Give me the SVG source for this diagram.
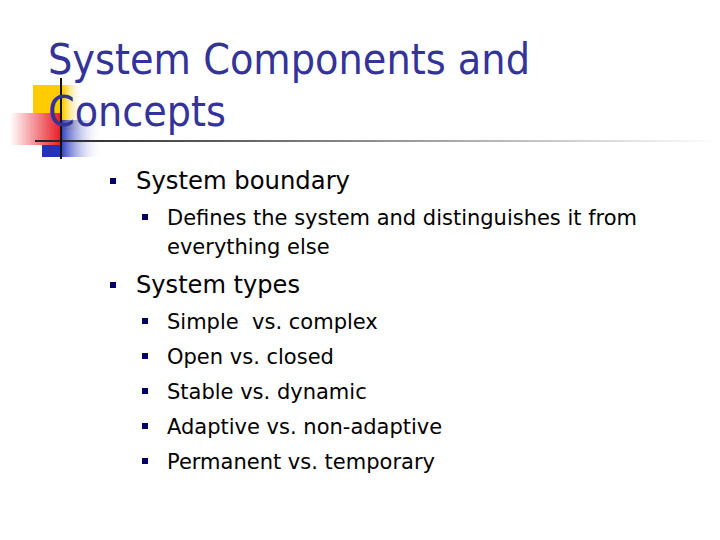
<svg xmlns="http://www.w3.org/2000/svg" width="720" height="540" viewBox="0 0 720 540">
<defs>
<linearGradient id="red" x1="0" x2="1"><stop offset="0" stop-color="#fff"/><stop offset="1" stop-color="#e8202a"/></linearGradient>
<linearGradient id="blue" x1="0" x2="1"><stop offset="0.3" stop-color="#2233bb"/><stop offset="1" stop-color="#fff" stop-opacity="0"/></linearGradient>
<linearGradient id="yel" x1="0" x2="1"><stop offset="0.6" stop-color="#ffcc00"/><stop offset="1" stop-color="#fff" stop-opacity="0"/></linearGradient>
<linearGradient id="line" x1="0" x2="1"><stop offset="0" stop-color="#222"/><stop offset="1" stop-color="#fff"/></linearGradient>
</defs>
<style>
.t{font-family:"DejaVu Sans","Liberation Sans",sans-serif;fill:#333399;font-size:42px}
.l1{font-family:"DejaVu Sans","Liberation Sans",sans-serif;fill:#000;font-size:25px}
.l2{font-family:"DejaVu Sans","Liberation Sans",sans-serif;fill:#000;font-size:21px}
.b{fill:#000066}
</style>
<rect width="720" height="540" fill="#fff"/>
<rect x="33" y="85" width="50" height="45" fill="url(#yel)"/>
<rect x="42" y="120" width="60" height="37" fill="url(#blue)"/>
<rect x="10" y="113" width="50" height="32" fill="url(#red)"/>
<rect x="35" y="140" width="685" height="2" fill="url(#line)"/>
<rect x="60" y="78" width="2" height="81" fill="#111"/>
<text class="t" x="48" y="74" textLength="482" lengthAdjust="spacingAndGlyphs">System Components and</text>
<text class="t" x="48" y="126" textLength="178" lengthAdjust="spacingAndGlyphs">Concepts</text>
<rect class="b" x="110" y="178" width="6" height="6"/>
<text class="l1" x="136" y="189" textLength="214" lengthAdjust="spacingAndGlyphs">System boundary</text>
<rect class="b" x="142" y="214" width="6" height="6"/>
<text class="l2" x="167" y="225" textLength="470" lengthAdjust="spacingAndGlyphs">Defines the system and distinguishes it from</text>
<text class="l2" x="167" y="254">everything else</text>
<rect class="b" x="110" y="282" width="6" height="6"/>
<text class="l1" x="136" y="293" textLength="164" lengthAdjust="spacingAndGlyphs">System types</text>
<rect class="b" x="142" y="318" width="6" height="6"/>
<text class="l2" x="167" y="329" xml:space="preserve">Simple  vs. complex</text>
<rect class="b" x="142" y="353" width="6" height="6"/>
<text class="l2" x="167" y="364">Open vs. closed</text>
<rect class="b" x="142" y="388" width="6" height="6"/>
<text class="l2" x="167" y="399">Stable vs. dynamic</text>
<rect class="b" x="142" y="423" width="6" height="6"/>
<text class="l2" x="167" y="434">Adaptive vs. non-adaptive</text>
<rect class="b" x="142" y="458" width="6" height="6"/>
<text class="l2" x="167" y="469">Permanent vs. temporary</text>
</svg>
